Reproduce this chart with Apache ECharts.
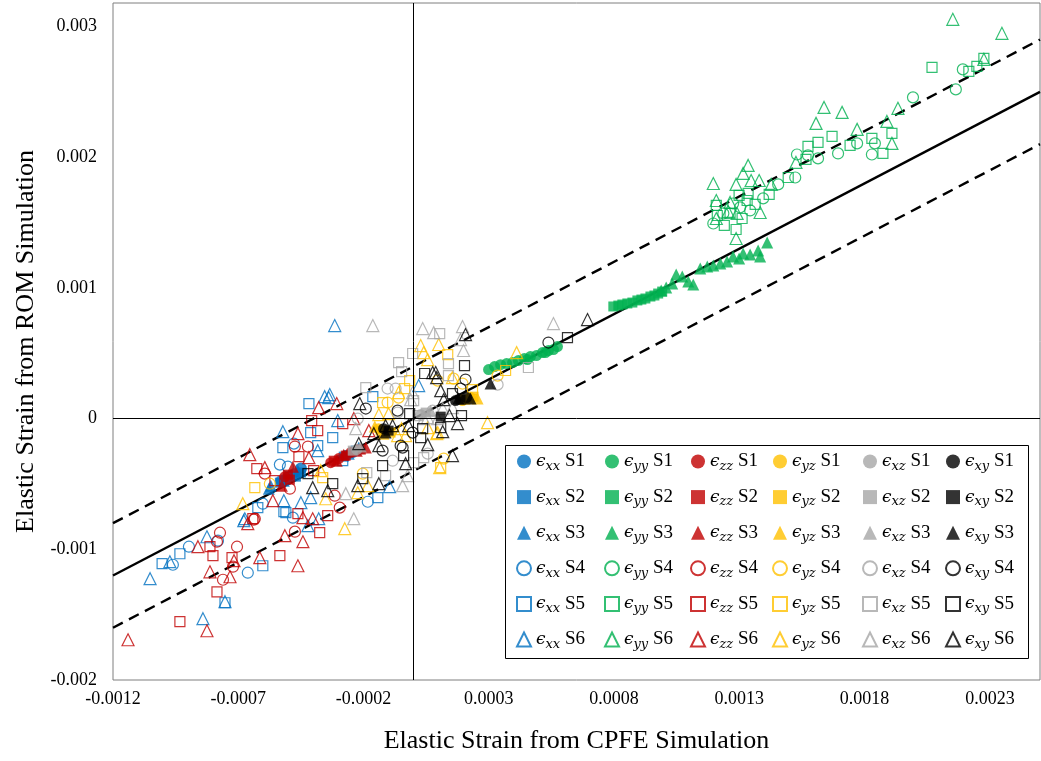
<!DOCTYPE html>
<html>
<head>
<meta charset="utf-8">
<script src="https://cdn.jsdelivr.net/npm/echarts@6/dist/echarts.min.js"></script>
<style>
  html, body { margin: 0; padding: 0; background: #fff; }
  #chart { width: 1041px; height: 761px; }
</style>
</head>
<body>
<div id="chart"></div>
<script>
// axis ticks
const xMin = -0.0012, xMax = 0.0025, xStep = 0.0005;
const yMin = -0.002, yMax = 0.00318, yStep = 0.001;

// reference lines (y = x and +/- 0.0004 band)
const lineX = [-0.0012, 0.0025];
const bandOffset = 0.0004;

const comps = ['xx', 'yy', 'zz', 'yz', 'xz', 'xy'];
const colors = {
  xx: '#0070C0',
  yy: '#00B050',
  zz: '#C00000',
  yz: '#FFC000',
  xz: '#A6A6A6',
  xy: '#000000',
};

// ---- eps_xx ----
const xxS1 = [[-5.30e-4, -4.75e-4], [-5.02e-4, -4.44e-4], [-4.78e-4, -4.21e-4], [-4.50e-4, -3.83e-4], [-2.71e-4, -2.83e-4], [-2.43e-4, -2.60e-4]];
const xxS2 = [[-5.34e-4, -4.90e-4], [-5.10e-4, -4.67e-4], [-4.70e-4, -4.44e-4], [-4.50e-4, -4.13e-4], [-2.79e-4, -2.91e-4], [-2.31e-4, -2.45e-4]];
const xxS3 = [[-5.78e-4, -5.36e-4], [-5.70e-4, -5.13e-4], [-5.18e-4, -4.75e-4], [-4.62e-4, -3.98e-4], [-2.59e-4, -2.68e-4], [-2.19e-4, -2.22e-4]];
const xxS4 = [[-4.78e-4, -1.91e-4], [-5.34e-4, -3.52e-4], [-5.02e-4, -3.68e-4], [-6.02e-4, -6.51e-4], [-4.82e-4, -7.58e-4], [-7.81e-4, -9.34e-4],
  [-8.97e-4, -9.80e-4], [-9.61e-4, -1.118e-3], [-6.62e-4, -1.179e-3], [-1.83e-4, -6.36e-4], [-4.50e-4, -3.83e-4]];
const xxS5 = [[-5.22e-4, -2.22e-4], [-4.18e-4, 1.15e-4], [-4.11e-4, -1.07e-4], [-3.83e-4, -2.07e-4], [-3.23e-4, -1.45e-4], [-1.63e-4, 1.68e-4],
  [-6.22e-4, -6.81e-4], [-5.18e-4, -7.12e-4], [-9.33e-4, -1.034e-3], [-1.004e-3, -1.110e-3], [-6.02e-4, -1.126e-3], [-7.53e-4, -1.409e-3],
  [-2.83e-4, -3.22e-4], [-1.43e-4, -6.05e-4], [-5.10e-4, -7.20e-4]];
const xxS6 = [[-5.22e-4, -1.00e-4], [-3.55e-4, 1.68e-4], [-3.39e-4, 1.61e-4], [-3.03e-4, -1.5e-5], [-3.83e-4, -2.45e-4], [-5.18e-4, -6.28e-4],
  [-4.50e-4, -6.43e-4], [-4.11e-4, -6.05e-4], [-6.74e-4, -7.66e-4], [-8.25e-4, -9.04e-4], [-9.73e-4, -1.095e-3], [-1.052e-3, -1.225e-3],
  [-7.53e-4, -1.401e-3], [-8.41e-4, -1.531e-3], [-3.15e-4, 7.12e-4], [2.0e-5, 2.53e-4], [-9.6e-5, -5.21e-4], [-4.22e-4, -8.19e-4],
  [-3.79e-4, -7.66e-4], [-6.78e-4, -7.81e-4], [-3.35e-4, 1.84e-4]];

// ---- eps_yy ----
const yyS1 = [[2.99e-4, 3.75e-4], [3.23e-4, 3.98e-4], [3.47e-4, 4.13e-4], [3.71e-4, 4.21e-4], [3.95e-4, 4.29e-4], [4.18e-4, 4.44e-4],
  [4.42e-4, 4.59e-4], [4.54e-4, 4.52e-4], [4.66e-4, 4.75e-4], [4.90e-4, 4.82e-4], [5.14e-4, 5.05e-4], [5.26e-4, 5.05e-4],
  [5.38e-4, 5.21e-4], [5.58e-4, 5.28e-4], [5.74e-4, 5.51e-4]];
const yyS2 = [[7.97e-4, 8.58e-4], [8.17e-4, 8.65e-4], [8.33e-4, 8.73e-4], [8.53e-4, 8.81e-4], [8.73e-4, 8.88e-4], [8.93e-4, 9.04e-4],
  [9.09e-4, 9.11e-4], [9.25e-4, 9.19e-4], [9.45e-4, 9.34e-4], [9.61e-4, 9.42e-4], [9.76e-4, 9.57e-4], [9.92e-4, 9.72e-4]];
const yyS3 = [[9.88e-4, 9.80e-4], [1.008e-3, 1.003e-3], [1.032e-3, 1.034e-3], [1.048e-3, 1.103e-3], [1.072e-3, 1.087e-3], [1.096e-3, 1.049e-3],
  [1.116e-3, 1.026e-3], [1.144e-3, 1.149e-3], [1.172e-3, 1.164e-3], [1.196e-3, 1.172e-3], [1.224e-3, 1.187e-3], [1.251e-3, 1.202e-3],
  [1.275e-3, 1.240e-3], [1.299e-3, 1.225e-3], [1.315e-3, 1.263e-3], [1.343e-3, 1.256e-3], [1.375e-3, 1.286e-3], [1.383e-3, 1.240e-3],
  [1.411e-3, 1.348e-3]];
const yyS4 = [[1.196e-3, 1.493e-3], [1.236e-3, 1.570e-3], [1.275e-3, 1.646e-3], [1.303e-3, 1.616e-3], [1.343e-3, 1.593e-3], [1.395e-3, 1.685e-3],
  [1.455e-3, 1.792e-3], [1.523e-3, 1.845e-3], [1.530e-3, 2.021e-3], [1.574e-3, 2.014e-3], [1.614e-3, 1.991e-3], [1.694e-3, 2.029e-3],
  [1.770e-3, 2.106e-3], [1.829e-3, 2.021e-3], [1.841e-3, 2.106e-3], [1.993e-3, 2.458e-3], [2.164e-3, 2.519e-3], [2.192e-3, 2.672e-3]];
const yyS5 = [[1.208e-3, 1.631e-3], [1.212e-3, 1.554e-3], [1.240e-3, 1.478e-3], [1.263e-3, 1.570e-3], [1.287e-3, 1.447e-3], [1.299e-3, 1.708e-3],
  [1.311e-3, 1.531e-3], [1.331e-3, 1.669e-3], [1.335e-3, 1.723e-3], [1.363e-3, 1.639e-3], [1.419e-3, 1.715e-3], [1.495e-3, 1.845e-3],
  [1.566e-3, 1.983e-3], [1.574e-3, 2.083e-3], [1.614e-3, 2.113e-3], [1.670e-3, 2.159e-3], [1.742e-3, 2.090e-3], [1.829e-3, 2.144e-3],
  [1.873e-3, 2.029e-3], [1.909e-3, 2.182e-3], [2.069e-3, 2.688e-3], [2.216e-3, 2.657e-3], [2.248e-3, 2.695e-3], [2.276e-3, 2.757e-3]];
const yyS6 = [[2.152e-3, 3.055e-3], [2.348e-3, 2.948e-3], [2.276e-3, 2.749e-3], [1.638e-3, 2.381e-3], [1.710e-3, 2.343e-3], [1.933e-3, 2.374e-3],
  [1.606e-3, 2.259e-3], [1.889e-3, 2.274e-3], [1.770e-3, 2.213e-3], [1.909e-3, 2.106e-3], [1.526e-3, 1.960e-3], [1.335e-3, 1.937e-3],
  [1.315e-3, 1.876e-3], [1.196e-3, 1.799e-3], [1.287e-3, 1.792e-3], [1.347e-3, 1.822e-3], [1.379e-3, 1.822e-3], [1.427e-3, 1.792e-3],
  [1.208e-3, 1.669e-3], [1.263e-3, 1.654e-3], [1.255e-3, 1.585e-3], [1.383e-3, 1.577e-3], [1.291e-3, 1.570e-3], [1.208e-3, 1.531e-3],
  [1.287e-3, 1.378e-3]];

// ---- eps_zz ----
const zzS1 = [[-5.14e-4, -4.44e-4], [-3.31e-4, -3.37e-4], [-2.99e-4, -3.06e-4], [-2.51e-4, -2.60e-4]];
const zzS2 = [[-5.02e-4, -4.29e-4], [-4.94e-4, -4.67e-4], [-3.19e-4, -3.22e-4], [-2.71e-4, -2.83e-4], [-2.11e-4, -2.37e-4]];
const zzS3 = [[-5.26e-4, -5.13e-4], [-4.82e-4, -3.68e-4], [-3.07e-4, -3.22e-4], [-2.79e-4, -2.76e-4], [-2.27e-4, -2.45e-4], [-1.91e-4, -2.22e-4]];
const zzS4 = [[-4.74e-4, -2.14e-4], [-5.94e-4, -4.21e-4], [-4.94e-4, -5.36e-4], [-6.34e-4, -7.66e-4], [-7.73e-4, -8.73e-4], [-7.05e-4, -9.80e-4],
  [-7.21e-4, -1.133e-3], [-7.61e-4, -1.233e-3], [-4.74e-4, -8.65e-4], [-4.22e-4, -2.14e-4], [-7.85e-4, -9.42e-4], [-2.95e-4, -6.81e-4],
  [-3.15e-4, -5.90e-4], [-6.38e-4, -7.73e-4]];
const zzS5 = [[-4.58e-4, -2.91e-4], [-6.26e-4, -3.83e-4], [-5.54e-4, -4.75e-4], [-4.62e-4, -7.27e-4], [-6.42e-4, -7.66e-4], [-8.13e-4, -9.80e-4],
  [-8.01e-4, -1.049e-3], [-7.25e-4, -1.064e-3], [-5.34e-4, -1.049e-3], [-7.85e-4, -1.325e-3], [-9.33e-4, -1.554e-3], [-4.07e-4, -1.5e-5],
  [-3.83e-4, -9.2e-5], [-3.99e-4, -3.98e-4], [-3.75e-4, -8.73e-4], [-3.43e-4, -7.43e-4], [-2.83e-4, -3.8e-5]];
const zzS6 = [[-4.62e-4, -1.15e-4], [-6.54e-4, -2.76e-4], [-5.94e-4, -3.75e-4], [-5.62e-4, -6.28e-4], [-6.62e-4, -8.04e-4], [-8.61e-4, -9.80e-4],
  [-7.17e-4, -1.087e-3], [-6.14e-4, -1.064e-3], [-8.13e-4, -1.172e-3], [-7.33e-4, -1.210e-3], [-5.14e-4, -8.96e-4], [-8.25e-4, -1.623e-3],
  [-1.140e-3, -1.692e-3], [-4.62e-4, -1.126e-3], [-3.07e-4, 1.15e-4], [-3.79e-4, 8.4e-5], [-4.18e-4, -2.99e-4], [-4.42e-4, -9.42e-4],
  [-4.42e-4, -7.58e-4], [-4.03e-4, -7.66e-4], [-2.39e-4, 0], [-1.79e-4, -9.2e-5]];

// ---- eps_yz ----
const yzS1 = [[-1.40e-4, -7.7e-5], [-1.08e-4, -9.2e-5], [1.95e-4, 1.38e-4], [2.27e-4, 1.61e-4]];
const yzS2 = [[-1.32e-4, -9.2e-5], [-9.2e-5, -1.07e-4], [2.07e-4, 1.45e-4], [2.39e-4, 1.68e-4]];
const yzS3 = [[-1.55e-4, -6.1e-5], [-1.20e-4, -1.15e-4], [2.19e-4, 1.61e-4], [2.55e-4, 1.53e-4]];
const yzS4 = [[-5.74e-4, -4.98e-4], [-6.0e-5, 1.61e-4], [1.20e-4, -3.06e-4], [3.35e-4, 3.29e-4], [1.95e-4, 2.68e-4], [-2.03e-4, -4.21e-4],
  [1.59e-4, 3.06e-4], [9.6e-5, 2.91e-4], [-1.04e-4, 1.23e-4]];
const yzS5 = [[-6.34e-4, -5.28e-4], [1.36e-4, 4.90e-4], [-1.6e-5, 2.91e-4], [-3.6e-5, 2.30e-4], [-1.24e-4, 1.23e-4], [1.08e-4, -3.75e-4],
  [2.35e-4, 2.22e-4], [-3.63e-4, -4.52e-4], [3.67e-4, 3.68e-4]];
const yzS6 = [[-6.82e-4, -6.51e-4], [1.00e-4, 5.67e-4], [4.0e-5, 5.05e-4], [5.6e-5, 4.52e-4], [-1.39e-4, 3.1e-5], [-1.00e-4, 3.8e-5],
  [-4.8e-5, -7.7e-5], [-3.2e-5, -1.30e-4], [-6.4e-5, -1.30e-4], [5.6e-5, -6.9e-5], [9.6e-5, -1.07e-4], [2.95e-4, -3.1e-5],
  [1.55e-4, 3.14e-4], [-1.83e-4, -5.13e-4], [1.04e-4, -3.75e-4], [-2.75e-4, -8.42e-4], [-2.23e-4, -5.67e-4], [-3.71e-4, -3.98e-4],
  [-3.51e-4, -6.13e-4], [4.11e-4, 5.05e-4], [-6.0e-5, 1.99e-4], [2.8e-5, 5.59e-4], [9.2e-5, -1.15e-4]];

// ---- eps_xz ----
const xzS1 = [[-2.27e-4, -2.37e-4], [2.8e-5, 3.1e-5]];
const xzS2 = [[-2.43e-4, -2.45e-4], [4.8e-5, 4.6e-5]];
const xzS3 = [[-2.11e-4, -2.14e-4], [6.8e-5, 6.1e-5]];
const xzS4 = [[-1.04e-4, 2.30e-4], [-7.2e-5, 2.30e-4], [7.6e-5, 6.1e-5], [-2.23e-4, 0], [-8.4e-5, -3.22e-4], [5.6e-5, -2.68e-4],
  [3.35e-4, 2.60e-4], [-6.4e-5, 4.6e-5]];
const xzS5 = [[1.04e-4, 6.51e-4], [-4e-6, 4.98e-4], [-6.0e-5, 4.29e-4], [-4.8e-5, 3.60e-4], [1.39e-4, 4.21e-4], [-1.91e-4, 2.37e-4],
  [0, 1.38e-4], [1.6e-5, 2.3e-5], [4.0e-5, -2.99e-4], [0, -3.37e-4], [-1.12e-4, -4.36e-4], [-1.87e-4, -4.13e-4],
  [4.58e-4, 3.91e-4], [1.39e-4, 3.29e-4]];
const xzS6 = [[-1.63e-4, 7.12e-4], [3.6e-5, 6.89e-4], [8.0e-5, 6.58e-4], [1.95e-4, 7.04e-4], [1.87e-4, 6.05e-4], [1.99e-4, 5.21e-4],
  [-4e-6, 1.99e-4], [4.0e-5, 0], [9.6e-5, 0], [-2.31e-4, -7.7e-5], [1.55e-4, 8.4e-5], [1.16e-4, 7.7e-5], [-4.4e-5, -5.13e-4],
  [-2.71e-4, -5.74e-4], [-2.39e-4, -7.66e-4], [-2.4e-5, -4.36e-4], [5.58e-4, 7.27e-4], [5.6e-5, 8e-6], [-1.2e-5, 1.45e-4]];

// ---- eps_xy ----
const xyS1 = [[-1.20e-4, -7.7e-5], [1.67e-4, 1.38e-4], [2.11e-4, 1.61e-4]];
const xyS2 = [[-1.00e-4, -9.2e-5], [1.08e-4, 1.5e-5], [1.87e-4, 1.45e-4]];
const xyS3 = [[-1.12e-4, -1.07e-4], [1.79e-4, 1.53e-4], [2.27e-4, 1.53e-4], [3.07e-4, 2.68e-4]];
const xyS4 = [[2.07e-4, 2.99e-4], [1.87e-4, 2.30e-4], [-1.91e-4, 7.7e-5], [-6.4e-5, 6.1e-5], [-4e-6, -1.07e-4], [-1.24e-4, -2.45e-4],
  [-4.4e-5, -2.22e-4], [5.38e-4, 5.82e-4], [-5.2e-5, -2.07e-4]];
const xyS5 = [[4.4e-5, 3.45e-4], [2.03e-4, 4.06e-4], [1.55e-4, 1.91e-4], [1.91e-4, 2.3e-5], [1.08e-4, -6.9e-5], [2.8e-5, -1.45e-4],
  [-4.0e-5, -2.83e-4], [-3.23e-4, -4.98e-4], [-4.22e-4, -4.21e-4], [-1.24e-4, -3.60e-4], [-2.03e-4, -4.59e-4], [-1.6e-5, 3.8e-5],
  [3.6e-5, -7.7e-5], [6.14e-4, 6.20e-4]];
const xyS6 = [[2.07e-4, 6.43e-4], [7.6e-5, 3.52e-4], [8.8e-5, 3.52e-4], [1.08e-4, 2.14e-4], [1.20e-4, 1.45e-4], [1.43e-4, 2.3e-5],
  [1.16e-4, -1.00e-4], [-2.15e-4, 1.15e-4], [-8.4e-5, -5.4e-5], [-2.0e-5, -5.4e-5], [-2.19e-4, -1.91e-4], [-1.39e-4, -2.07e-4],
  [-3.2e-5, -3.45e-4], [1.55e-4, -2.83e-4], [-2.23e-4, -5.13e-4], [-1.39e-4, -4.98e-4], [-3.43e-4, -5.51e-4], [-4.03e-4, -5.28e-4],
  [5.6e-5, -1.99e-4], [-1.59e-4, -1.15e-4], [-1.12e-4, -5.4e-5], [1.75e-4, -3.8e-5], [6.94e-4, 7.58e-4], [9.2e-5, 3.14e-4]];

const seriesData = {
  xx: [xxS1, xxS2, xxS3, xxS4, xxS5, xxS6],
  yy: [yyS1, yyS2, yyS3, yyS4, yyS5, yyS6],
  zz: [zzS1, zzS2, zzS3, zzS4, zzS5, zzS6],
  yz: [yzS1, yzS2, yzS3, yzS4, yzS5, yzS6],
  xz: [xzS1, xzS2, xzS3, xzS4, xzS5, xzS6],
  xy: [xyS1, xyS2, xyS3, xyS4, xyS5, xyS6],
};

const symbols = ['circle', 'rect', 'triangle'];
const symbolSizes = { circle: 11, rect: 10, triangle: 12 };

const chart = echarts.init(document.getElementById('chart'));

// scatter series, S1-S3 filled, S4-S6 hollow
const scatterSeries = [];
comps.forEach((c) => {
  seriesData[c].forEach((data, i) => {
    const sym = symbols[i % 3];
    const filled = i < 3;
    scatterSeries.push({
      name: c + ' S' + (i + 1),
      type: 'scatter',
      data: data,
      symbol: sym,
      symbolSize: symbolSizes[sym],
      itemStyle: filled
        ? { color: colors[c] }
        : { color: 'rgba(255,255,255,0)', borderColor: colors[c], borderWidth: 1.2 },
      emphasis: { disabled: true },
      z: 3,
    });
  });
});

const refLine = (offset, dashed) => ({
  type: 'line',
  data: lineX.map((x) => [x, x + offset]),
  symbol: 'none',
  silent: true,
  lineStyle: { color: '#000', width: 2.4, type: dashed ? [11, 7] : 'solid' },
  z: 1,
});

const mainLine = refLine(0, false);
mainLine.markLine = {
  silent: true,
  symbol: ['none', 'none'],
  label: { show: false },
  lineStyle: { color: '#000', width: 1, type: 'solid' },
  data: [{ xAxis: 0 }, { yAxis: 0 }],
};

// legend: one vertical column per strain component
const legendLefts = [511, 599, 685, 767, 857, 940];
const legends = comps.map((c, k) => ({
  orient: 'vertical',
  left: legendLefts[k],
  top: 447,
  z: 20,
  itemWidth: 14,
  itemHeight: 14,
  itemGap: 14.6,
  selectedMode: false,
  data: [1, 2, 3, 4, 5, 6].map((n) => c + ' S' + n),
  formatter: (name) => {
    const parts = name.split(' ');
    return '{e|ϵ}{s|' + parts[0] + '}{t| ' + parts[1] + '}';
  },
  textStyle: {
    color: '#000',
    rich: {
      e: { fontFamily: 'DejaVu Serif', fontStyle: 'italic', fontSize: 17, color: '#000' },
      s: { fontFamily: 'DejaVu Serif', fontStyle: 'italic', fontSize: 13, color: '#000', padding: [10, 0, 0, 0] },
      t: { fontFamily: 'Liberation Serif', fontSize: 19, color: '#000' },
    },
  },
}));

const fmt = (v) => String(parseFloat(v.toFixed(5)));

const option = {
  animation: false,
  backgroundColor: '#fff',
  grid: {
    left: 113,
    right: 1,
    top: 3,
    bottom: 81,
    show: true,
    borderColor: '#7f7f7f',
    borderWidth: 1,
  },
  legend: legends,
  graphic: [
    {
      type: 'rect',
      left: 505,
      top: 445,
      z: 5,
      shape: { width: 523, height: 213 },
      style: { fill: '#fff', stroke: '#000', lineWidth: 1 },
    },
  ],
  xAxis: {
    type: 'value',
    min: xMin,
    max: xMax,
    interval: xStep,
    name: 'Elastic Strain from CPFE Simulation',
    nameLocation: 'middle',
    nameGap: 48,
    nameTextStyle: { fontFamily: 'Liberation Serif', fontSize: 26, color: '#000' },
    axisLine: { show: false, onZero: false },
    axisTick: { show: false },
    splitLine: { show: false },
    axisLabel: {
      showMaxLabel: false,
      margin: 10,
      fontFamily: 'Liberation Serif',
      fontSize: 18,
      color: '#000',
      formatter: fmt,
    },
  },
  yAxis: {
    type: 'value',
    min: yMin,
    max: yMax,
    interval: yStep,
    name: 'Elastic Strain from ROM Simulation',
    nameLocation: 'middle',
    nameGap: 58,
    nameTextStyle: { fontFamily: 'Liberation Serif', fontSize: 26, color: '#000' },
    axisLine: { show: false, onZero: false },
    axisTick: { show: false },
    splitLine: { show: false },
    axisLabel: {
      showMaxLabel: false,
      margin: 16,
      fontFamily: 'Liberation Serif',
      fontSize: 18,
      color: '#000',
      formatter: fmt,
    },
  },
  series: [mainLine, refLine(bandOffset, true), refLine(-bandOffset, true), ...scatterSeries],
};

chart.setOption(option);

window.addEventListener('resize', () => {
  chart.resize();
});
</script>
</body>
</html>
